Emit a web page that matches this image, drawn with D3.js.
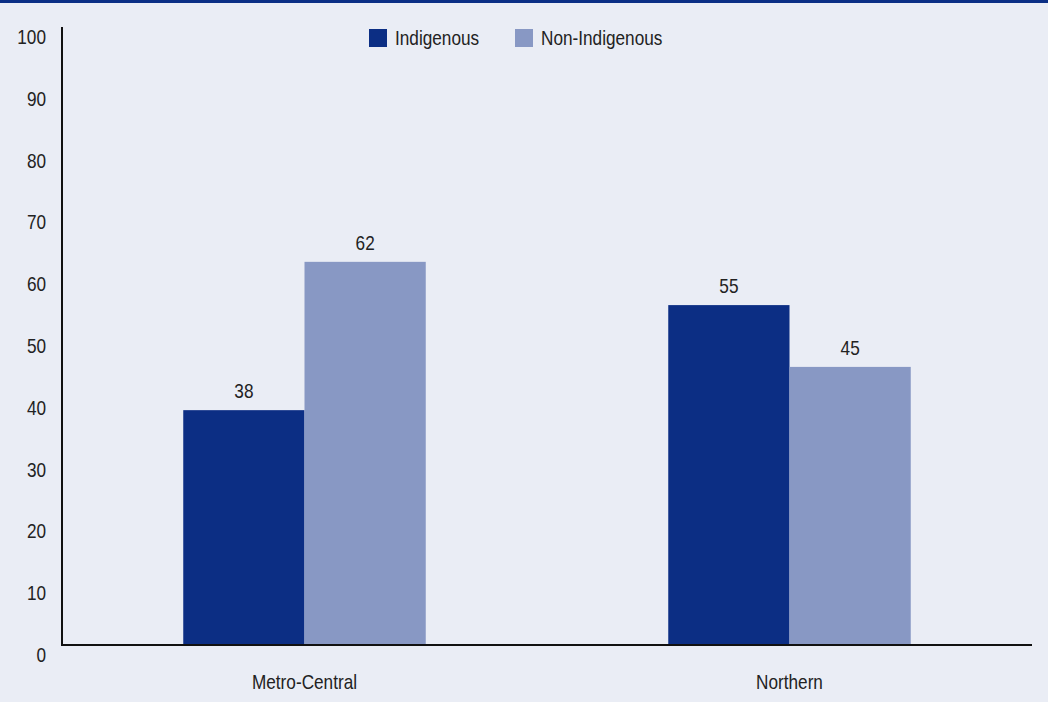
<!DOCTYPE html>
<html>
<head>
<meta charset="utf-8">
<script src="https://cdn.jsdelivr.net/npm/d3@7"></script>
<style>
body { margin:0; background:#eaedf5; }
svg { display:block; }
text { font-family:"Liberation Sans",Arial,sans-serif; fill:#222; }
</style>
</head>
<body>
<div id="figure"></div>
<script>
var categories = ["Metro-Central", "Northern"];
var seriesNames = ["Indigenous", "Non-Indigenous"];
var indigenous = [38, 55];
var nonIndigenous = [62, 45];
var yTicks = [0, 10, 20, 30, 40, 50, 60, 70, 80, 90, 100];

var colors = ["#0c2e84", "#8898c4"];

var w = 1048, h = 702;
var plotL = 62, plotR = 1032, plotT = 27, plotB = 645;
var squeeze = 0.86; // the original font is a condensed one

var svg = d3.select("#figure").append("svg").attr("width", w).attr("height", h);

svg.append("rect").attr("x",0).attr("y",0).attr("width",w).attr("height",h).attr("fill","#eaedf5");
svg.append("rect").attr("x",0).attr("y",0).attr("width",w).attr("height",3).attr("fill","#0b2f85");

// places a narrowed text at (x,y)
function label(parent, x, y, str, anchor) {
	parent.append("text")
	.attr("transform", "translate(" + x + "," + y + ") scale(" + squeeze + ",1)")
	.attr("text-anchor", anchor)
	.attr("font-size", "20px")
	.text(str);
}

var y = d3.scaleLinear().domain([0,100]).range([plotB, plotT]);
var x0 = d3.scaleBand().domain(categories).range([plotL, plotR]);
var gw = x0.bandwidth()*0.5;
var x1 = d3.scaleBand().domain(seriesNames).range([0, gw]);

var data = categories.map(function(c,i) {
	return {cat:c, vals:[{s:seriesNames[0], v:indigenous[i]}, {s:seriesNames[1], v:nonIndigenous[i]}]};
});

var groups = svg.selectAll("g.grp")
	.data(data)
	.enter()
	.append("g")
	.attr("class","grp")
	.attr("transform", function(d) { return "translate(" + (x0(d.cat) + (x0.bandwidth()-gw)/2) + ",0)"; });

groups.selectAll("rect")
	.data(function(d) { return d.vals; })
	.enter()
	.append("rect")
	.attr("x", function(d) { return x1(d.s); })
	.attr("y", function(d) { return y(d.v); })
	.attr("width", x1.bandwidth())
	.attr("height", function(d) { return plotB - y(d.v); })
	.attr("fill", function(d,i) { return colors[i]; });

groups.each(function(d) {
	var g = d3.select(this);
	d.vals.forEach(function(e) {
		label(g, x1(e.s) + x1.bandwidth()/2, y(e.v) - 12, e.v, "middle");
	});
});

// y axis labels (sit a little below their value)
yTicks.forEach(function(t) {
	label(svg, 46, y(t) + 17, t, "end");
});

// category labels
categories.forEach(function(c) {
	label(svg, x0(c) + x0.bandwidth()/2, 689, c, "middle");
});

// axes lines
svg.append("line").attr("x1",plotL).attr("x2",plotL).attr("y1",plotT).attr("y2",plotB+1)
	.attr("stroke","#111").attr("stroke-width",2);
svg.append("line").attr("x1",plotL).attr("x2",plotR).attr("y1",plotB).attr("y2",plotB)
	.attr("stroke","#111").attr("stroke-width",2);

// legend
var legX = [369, 515];
seriesNames.forEach(function(s,i) {
	svg.append("rect").attr("x",legX[i]).attr("y",29).attr("width",18).attr("height",18).attr("fill",colors[i]);
	label(svg, legX[i] + 26, 45, s, "start");
});
</script>
</body>
</html>
